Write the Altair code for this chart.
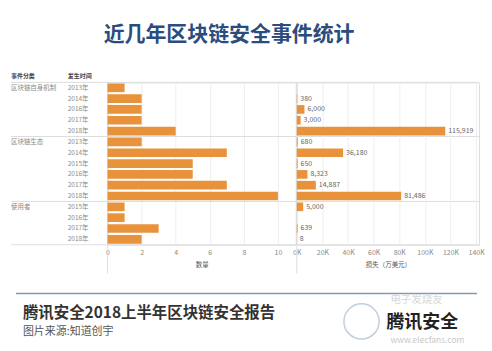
import altair as alt
import pandas as pd

# ---------------- data ----------------
group_names = ["区块链自身机制", "区块链生态", "使用者"]
group_years = [
    ["2013年", "2014年", "2016年", "2017年", "2018年"],
    ["2013年", "2014年", "2015年", "2016年", "2017年", "2018年"],
    ["2015年", "2016年", "2017年", "2018年"],
]
counts = [1, 2, 2, 2, 4, 2, 7, 5, 5, 7, 10, 1, 1, 3, 2]
losses = [None, 380, 6000, 3000, 115919, 680, 36180, 650, 8323, 14887, 81486, 5000, None, 639, 8]
count_ticks = [0, 2, 4, 6, 8, 10]
loss_ticks = [0, 20000, 40000, 60000, 80000, 100000, 120000, 140000]

title_text = "近几年区块链安全事件统计"
header_texts = ["事件分类", "发生时间"]
count_title = "数量"
loss_title = "损失（万美元）"
footer_title = "腾讯安全2018上半年区块链安全报告"
footer_source = "图片来源:知道创宇"
logo_text = "腾讯安全"
wm_text1 = "电子发烧友"
wm_text2 = "www.elecfans.com"

rows = []
i = 0
for g, years in zip(group_names, group_years):
    for j, yr in enumerate(years):
        rows.append(dict(row=i, group=g, year=yr, first=(j == 0),
                         count=counts[i], loss=losses[i]))
        i += 1
df = pd.DataFrame(rows)
df_loss = df[df["loss"].notna()].copy()
df_first = df[df["first"]].copy()
sep_top = pd.DataFrame({"row": [r for r in df_first["row"]]})
sep_bot = pd.DataFrame({"row": [len(df) - 1]})

FONT = "Noto Sans CJK SC"
BAR = "#e8923c"
W1, W2, H = 189, 183, 163
NROW = len(df)

yscale = alt.Scale(domain=list(range(NROW)), paddingInner=0, paddingOuter=0)
yenc = alt.Y("row:O", scale=yscale, axis=None)


def txt(t, x, y, size, color, weight="normal", align="left"):
    return alt.Chart(pd.DataFrame({"t": [t]})).mark_text(
        align=align, baseline="middle", fontSize=size, color=color,
        fontWeight=weight, font=FONT
    ).encode(text="t:N", x=alt.value(x), y=alt.value(y))


axis_common = dict(grid=True, gridColor="#eeeeee", ticks=False, domain=False,
                   labelColor="#8a8a8a", labelFontSize=7, labelPadding=4,
                   labelFlush=False, labelOverlap=False,
                   titleFontSize=6.5, titleColor="#555555",
                   titleFontWeight="normal", titlePadding=6, labelFont=FONT,
                   titleFont=FONT)

# ---------------- left panel ----------------
scaleL = alt.Scale(domain=[0, 11.05], nice=False)
axisL = alt.Axis(values=count_ticks, title=count_title, **axis_common)
xL = alt.X("count:Q", scale=scaleL, axis=axisL)

# invisible frame that fixes the page extent (0,0)-(492,351)
frame = alt.Chart(pd.DataFrame({"a": [0]})).mark_rect(color="white", opacity=0).encode(
    x=alt.value(-107), x2=alt.value(385), y=alt.value(-81), y2=alt.value(270))

bars_l = alt.Chart(df).mark_bar(color=BAR, height={"band": 0.8}).encode(x=xL, y=yenc)

years_t = alt.Chart(df).mark_text(align="left", baseline="middle", fontSize=6.5,
                                  color="#8a8a8a", font=FONT).encode(
    y=yenc, x=alt.value(-40), text="year:N")
groups_t = alt.Chart(df_first).mark_text(align="left", baseline="middle", fontSize=6.5,
                                         color="#8a8a8a", font=FONT).encode(
    y=yenc, x=alt.value(-97), text="group:N")

sep1 = alt.Chart(sep_top).mark_rule(color="#dddddd", strokeWidth=1).encode(
    y=alt.Y("row:O", scale=yscale, axis=None, bandPosition=0),
    x=alt.value(-97), x2=alt.value(373))
sep2 = alt.Chart(sep_bot).mark_rule(color="#dddddd", strokeWidth=1).encode(
    y=alt.Y("row:O", scale=yscale, axis=None, bandPosition=1),
    x=alt.value(-97), x2=alt.value(373))
zero_l = alt.Chart(pd.DataFrame({"a": [0]})).mark_rule(color="#dddddd").encode(
    x=alt.XDatum(0, scale=scaleL, axis=axisL), y=alt.value(0), y2=alt.value(192))

deco = [
    txt(title_text, 122, -48, 21, "#2b4c7e", weight="bold", align="center"),
    txt(header_texts[0], -97, -6, 6, "#444444", weight="bold"),
    txt(header_texts[1], -40, -6, 6, "#444444", weight="bold"),
    alt.Chart(pd.DataFrame({"a": [0]})).mark_rule(color="#7f9bb5", strokeWidth=1.5).encode(
        x=alt.value(-92), x2=alt.value(371), y=alt.value(212)),
    txt(footer_title, -85, 232, 15.5, "#333333", weight="bold"),
    txt(footer_source, -85, 251, 11, "#555555"),
    alt.Chart(pd.DataFrame({"a": [0]})).mark_point(
        shape="circle", size=1250, filled=False, color="#a9bccd", strokeWidth=1.5).encode(
        x=alt.value(255), y=alt.value(240)),
    txt(wm_text1, 284, 219, 10.5, "#d6d6d6"),
    txt(logo_text, 280, 242, 18, "#222222", weight="bold"),
    txt(wm_text2, 284, 259, 8.5, "#c8c8c8"),
]

left = alt.layer(frame, zero_l, bars_l, years_t, groups_t, sep1, sep2, *deco).properties(
    width=W1, height=H)

# ---------------- right panel ----------------
scaleR = alt.Scale(domain=[0, 142300], nice=False)
axisR = alt.Axis(values=loss_ticks, title=loss_title,
                 labelExpr="format(datum.value / 1000, 'd') + 'K'", **axis_common)
xR = alt.X("loss:Q", scale=scaleR, axis=axisR)

bars_r = alt.Chart(df_loss).mark_bar(color=BAR, height={"band": 0.8}).encode(x=xR, y=yenc)
labels_r = alt.Chart(df_loss).mark_text(align="left", baseline="middle", dx=3, fontSize=7,
                                        color="#666666", font=FONT).encode(
    x=xR, y=yenc, text=alt.Text("loss:Q", format=","))
zero_r = alt.Chart(pd.DataFrame({"a": [0]})).mark_rule(color="#dddddd").encode(
    x=alt.XDatum(0, scale=scaleR, axis=axisR), y=alt.value(0), y2=alt.value(192))

right = alt.layer(zero_r, bars_r, labels_r).properties(width=W2, height=H)

chart = alt.hconcat(left, right, spacing=1, bounds="flush", padding=0).configure_view(
    stroke=None).configure_axis(labelOverlap=False).configure(font=FONT)

chart.save("out.html", embed_options={"renderer": "svg", "actions": False})
